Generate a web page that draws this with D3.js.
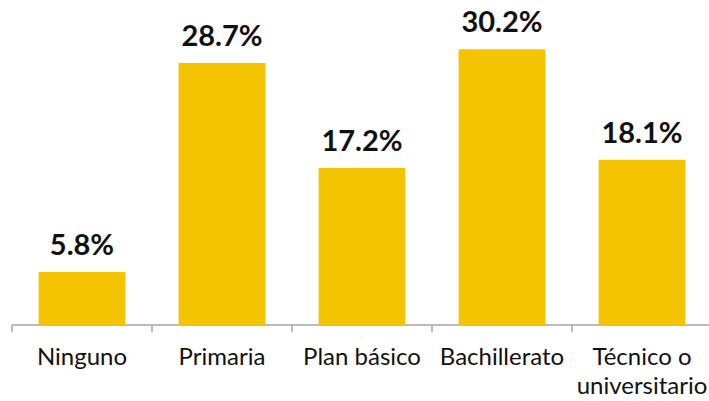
<!DOCTYPE html>
<html><head><meta charset="utf-8">
<script src="https://cdn.jsdelivr.net/npm/d3@7"></script>
<style>body{margin:0;background:#fff}svg{display:block}</style>
</head><body>
<svg id="c" width="709" height="401"></svg>
<script>
const categories = ["Ninguno", "Primaria", "Plan básico", "Bachillerato", "Técnico o\nuniversitario"];
const values = [5.8, 28.7, 17.2, 30.2, 18.1];
const labels = ["5.8%", "28.7%", "17.2%", "30.2%", "18.1%"];

const svg = d3.select("#c");
const x = d3.scaleBand().domain(categories).range([12, 712]).paddingInner(0.38).paddingOuter(0.19);
const y = d3.scaleLinear().domain([0, 10]).range([325, 233.7]);

svg.append("line").attr("x1", 12).attr("x2", 712).attr("y1", 325).attr("y2", 325)
  .attr("stroke", "#a6a6a6").attr("stroke-width", 1.5);
categories.forEach((c, i) => {
  const tx = 12 + i * x.step();
  svg.append("line").attr("x1", tx).attr("x2", tx).attr("y1", 325).attr("y2", 332)
    .attr("stroke", "#a6a6a6").attr("stroke-width", 1.5);
});

svg.selectAll("rect.bar").data(values).join("rect").attr("class", "bar")
  .attr("x", (d, i) => x(categories[i])).attr("width", x.bandwidth())
  .attr("y", d => y(d)).attr("height", d => y(0) - y(d)).attr("fill", "#f5c400");

svg.selectAll("text.val").data(values).join("text").attr("class", "val")
  .attr("x", (d, i) => x(categories[i]) + x.bandwidth() / 2)
  .attr("y", d => y(d) - 17)
  .attr("text-anchor", "middle").attr("font-family", "Lato").attr("font-weight", "bold")
  .attr("font-size", 29).attr("fill", "#111")
  .text((d, i) => labels[i]);

categories.forEach((c, i) => {
  const cx = x(c) + x.bandwidth() / 2;
  const t = svg.append("text").attr("text-anchor", "middle").attr("font-family", "Lato")
    .attr("font-size", 24).attr("fill", "#111")
    .attr("x", cx).attr("y", 365);
  c.split("\n").forEach((line, j) => {
    t.append("tspan").attr("x", cx).attr("dy", j ? 29 : 0).text(line);
  });
});
</script>
</body></html>
